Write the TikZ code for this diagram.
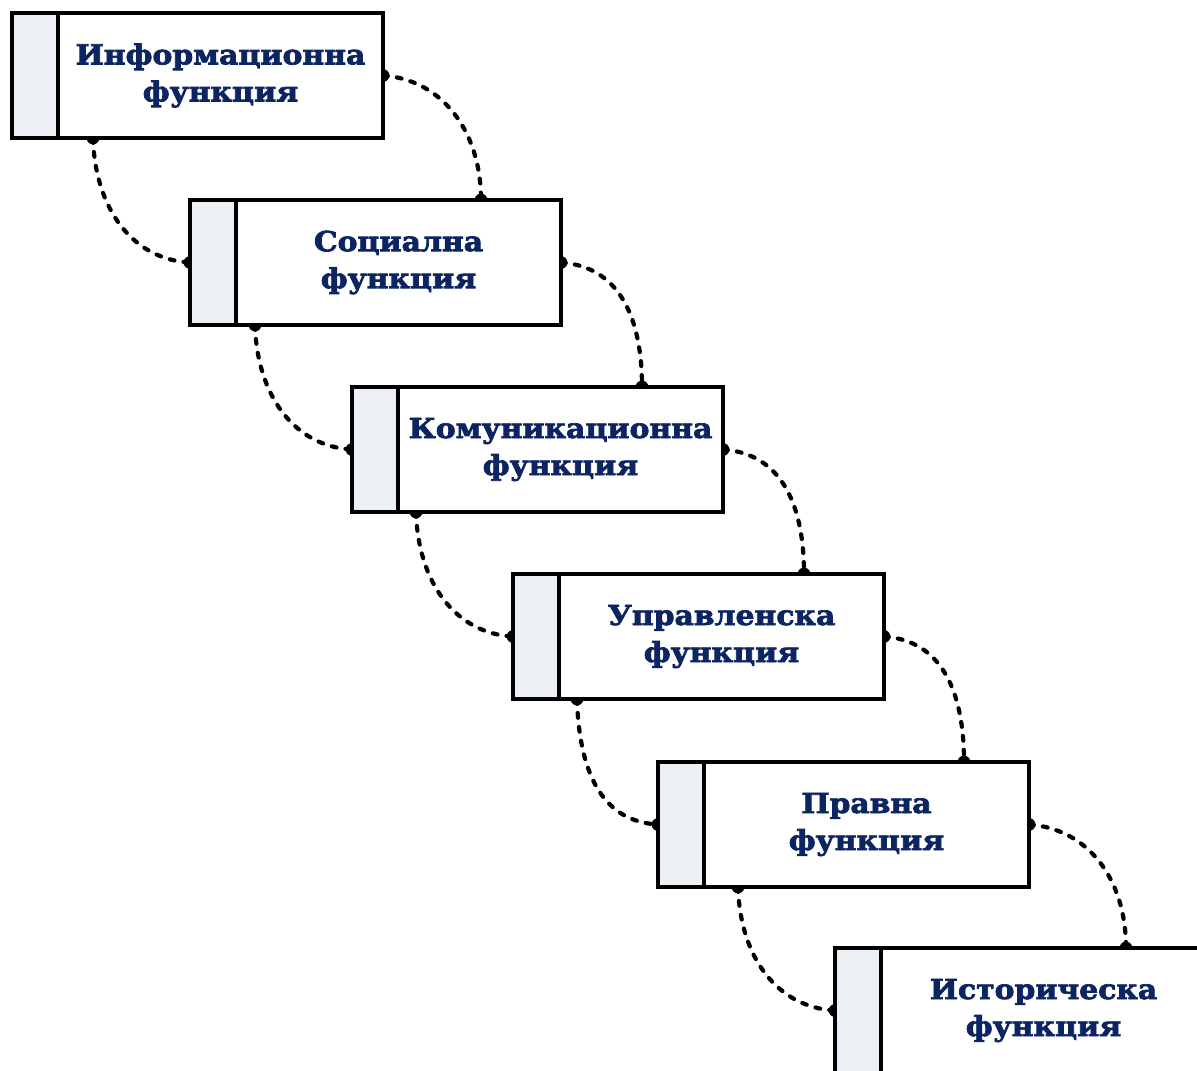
\documentclass[tikz,border=0pt]{standalone}
\usepackage{fontspec}
\newfontfamily\lblfont{DejaVu Serif}[UprightFont={* Bold}, FakeStretch=1.08, FakeBold=2.6]
\usetikzlibrary{calc}
\pgfdeclarelayer{links}
\pgfsetlayers{links,main}
\definecolor{lbltext}{RGB}{12,36,98}
\definecolor{stripfill}{RGB}{236,240,245}
\tikzset{
  mainbox/.style={draw=black, line width=2.1pt, fill=white, rectangle,
    minimum width=162.5pt, minimum height=62.5pt, inner sep=0pt, outer sep=0pt,
    anchor=north west, align=center, text=lbltext,
    font=\lblfont\fontsize{13.8}{18.5}\selectfont},
  stripbox/.style={draw=black, line width=2.1pt, fill=stripfill, rectangle,
    minimum width=23pt, minimum height=62.5pt, inner sep=0pt, outer sep=0pt,
    anchor=north east},
  conn/.style={line width=2.1pt, line cap=round, dash pattern=on 2.4pt off 4.6pt},
  enddot/.style={circle, fill=black, inner sep=0pt, minimum size=6.4pt}
}
\begin{document}
\begin{tikzpicture}[x=0.5pt,y=-0.5pt]
\useasboundingbox (0,0) rectangle (1197,1070);
\clip (0,0) rectangle (1197,1070);

% function boxes: white text panel with a shaded strip on its left
\node[mainbox] (b1) at (58,13)   {Информационна\\функция};
\node[mainbox] (b2) at (236,200) {Социална\\функция};
\node[mainbox] (b3) at (398,387) {Комуникационна\\функция};
\node[mainbox] (b4) at (559,574) {Управленска\\функция};
\node[mainbox] (b5) at (704,762) {Правна\\функция};
\node[mainbox] (b6) at (881,948) {Историческа\\функция};
\foreach \i in {1,...,6}
  \node[stripbox] (s\i) at (b\i.north west) {};

% attachment points of the connectors
\coordinate (t2) at ($(b2.north west)+(245,0)$);
\coordinate (t3) at ($(b3.north west)+(244,0)$);
\coordinate (t4) at ($(b4.north west)+(245,0)$);
\coordinate (t5) at ($(b5.north west)+(260,0)$);
\coordinate (t6) at ($(b6.north west)+(245,0)$);
\coordinate (u1) at ($(s1.south west)+(81,0)$);
\coordinate (u2) at ($(s2.south west)+(65,0)$);
\coordinate (u3) at ($(s3.south west)+(64,0)$);
\coordinate (u4) at ($(s4.south west)+(64,0)$);
\coordinate (u5) at ($(s5.south west)+(80,0)$);

% dotted links sit behind the boxes, so only half of each end dot shows
\begin{pgfonlayer}{links}
% right-hand links: box side to top of the next box
\foreach \a/\b in {b1/t2, b2/t3, b3/t4, b4/t5, b5/t6} {
  \draw[conn] (\a.east) .. controls +(58,4) and +(0,-70) .. (\b);
  \node[enddot] at (\a.east) {};
  \node[enddot] at (\b) {};
}
% left-hand links: box bottom to the strip of the next box
\foreach \a/\b in {u1/s2, u2/s3, u3/s4, u4/s5, u5/s6} {
  \draw[conn] (\a) .. controls +(2,70) and +(-58,-3) .. (\b.west);
  \node[enddot] at (\a) {};
  \node[enddot] at (\b.west) {};
}
\end{pgfonlayer}
\end{tikzpicture}
\end{document}
